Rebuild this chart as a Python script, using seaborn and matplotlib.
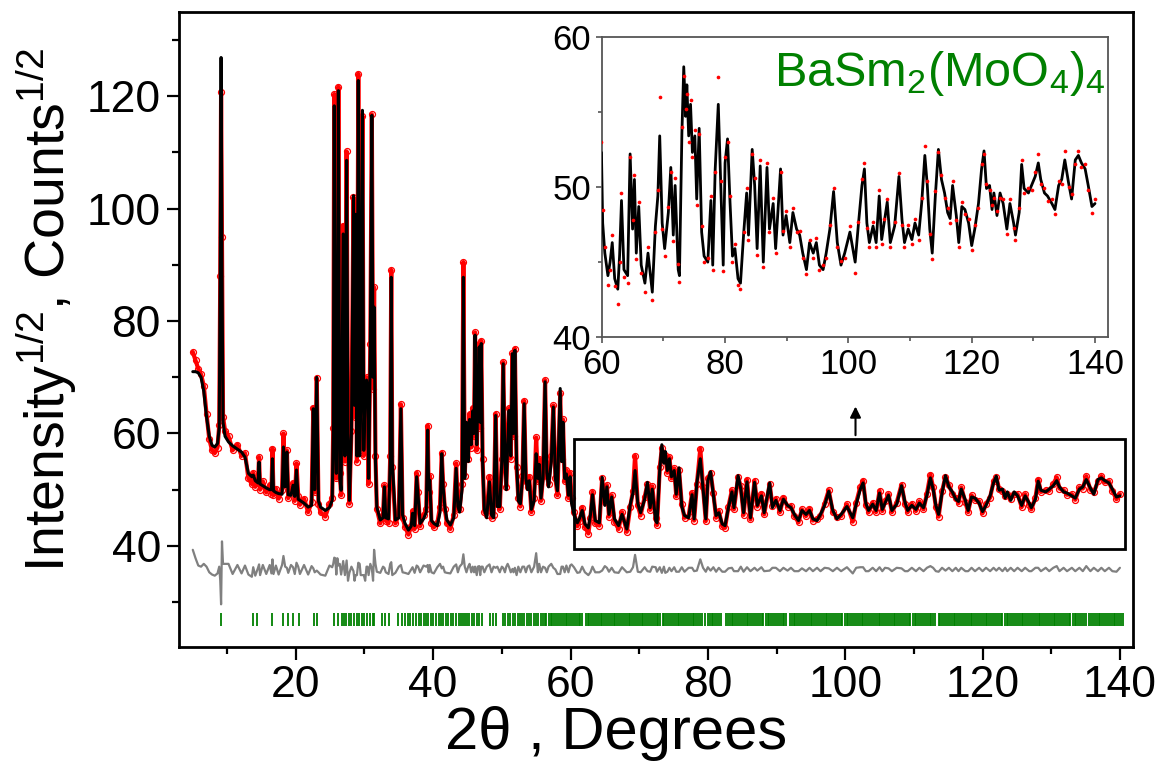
import numpy as np
import matplotlib
matplotlib.use("Agg")
import matplotlib.pyplot as plt
from matplotlib.patches import Rectangle
import seaborn as sns

# ---------------- data ----------------
two_theta = [
    5.0, 5.4, 5.8, 6.2, 6.6, 7.0, 7.4, 7.8, 8.2, 8.6, 8.85, 9.0, 9.12, 9.25, 9.4, 9.7,
    10.2, 10.8, 11.5, 12.1, 12.6, 13.1, 13.6, 13.8, 14.1, 14.5, 14.65, 14.8, 15.2, 15.7,
    16.2, 16.45, 16.6, 16.75, 17.1, 17.5, 18.0, 18.2, 18.45, 18.7, 18.9, 19.3, 19.6, 19.85,
    20.1, 20.35, 20.6, 21.2, 21.8, 22.3, 22.55, 22.75, 23.05, 23.3, 23.6, 24.3, 24.9, 25.3,
    25.45, 25.6, 25.75, 25.9, 26.05, 26.2, 26.4, 26.6, 26.9, 27.15, 27.4, 27.6, 27.8, 28.1,
    28.4, 28.55, 28.7, 28.9, 29.1, 29.3, 29.45, 29.7, 29.9, 30.1, 30.3, 30.45, 30.6, 30.85,
    31.07, 31.25, 31.4, 31.6, 31.8, 32.3, 32.7, 32.9, 33.1, 33.5, 33.75, 33.9, 34.05, 34.5,
    35.0, 35.3, 35.55, 35.9, 36.4, 36.8, 37.0, 37.3, 37.6, 37.8, 38.1, 38.6, 39.0, 39.2,
    39.35, 39.5, 39.75, 40.1, 40.6, 41.0, 41.25, 41.45, 41.7, 42.0, 42.5, 43.0, 43.35, 43.6,
    43.85, 44.2, 44.4, 44.6, 44.85, 45.1, 45.3, 45.55, 45.75, 45.95, 46.1, 46.35, 46.5, 46.7,
    46.85, 47.0, 47.2, 47.45, 47.8, 48.2, 48.5, 48.8, 49.1, 49.35, 49.7, 50.0, 50.2, 50.45,
    50.65, 50.85, 51.06, 51.3, 51.55, 51.7, 51.9, 52.15, 52.4, 52.7, 53.0, 53.25, 53.5, 53.75,
    54.0, 54.3, 54.7, 55.0, 55.25, 55.45, 55.7, 56.0, 56.3, 56.55, 56.8, 57.2, 57.5, 57.8,
    58.1, 58.5, 58.7, 58.9, 59.15, 59.4, 59.7, 59.95,
    60.15, 60.5, 61.0, 61.35, 61.7, 62.1, 62.6, 62.9, 63.2, 63.6, 64.2, 64.6, 65.0, 65.3,
    65.6, 66.0, 66.4, 67.0, 67.5, 68.2, 68.7, 69.1, 69.4, 69.8, 70.2, 70.8, 71.2, 71.6,
    71.9, 72.4, 72.6, 73.0, 73.3, 73.6, 73.8, 74.1, 74.4, 74.7, 75.1, 75.4, 75.8, 76.2,
    76.6, 77.2, 77.7, 78.0, 78.4, 78.9, 79.3, 79.7, 80.0, 80.4, 80.8, 81.2, 81.6, 82.1,
    82.5, 83.0, 83.5, 83.8, 84.4, 84.8, 85.2, 85.7, 86.2, 86.8, 87.2, 87.8, 88.2, 89.0,
    89.4, 89.9, 90.5, 91.0, 91.6, 92.1, 92.6, 93.2, 93.7, 94.3, 94.8, 95.3, 95.9, 96.4,
    97.0, 97.6, 98.2, 98.8, 99.4, 100.25, 101.1, 101.6, 102.2, 102.6, 103.0, 103.4, 104.0, 104.5,
    105.0, 105.4, 105.8, 106.3, 106.8, 107.5, 108.2, 108.7, 109.1, 109.7, 110.3, 110.8, 111.4, 111.9,
    112.4, 112.8, 113.2, 113.6, 114.1, 114.6, 115.1, 115.6, 116.1, 116.5, 116.9, 117.5, 117.9, 118.4,
    118.9, 119.5, 120.0, 120.5, 121.1, 121.6, 122.0, 122.4, 122.9, 123.3, 123.6, 124.1, 124.6, 125.1,
    125.7, 126.2, 126.8, 127.1, 127.7, 128.1, 128.5, 129.2, 129.7, 130.3, 130.8, 131.2, 131.8, 132.3,
    133.0, 133.5, 134.1, 134.6, 135.1, 135.7, 136.2, 136.8, 137.3, 137.8, 138.4, 138.9, 139.5, 140.0,
]

y_calc = [
    71.0, 71.0, 70.8, 70.0, 67.5, 63.0, 59.5, 57.9, 57.6, 58.2, 61.0, 90.0, 126.9, 90.0, 62.0, 59.5,
    58.5, 57.8, 57.2, 56.7, 55.8, 52.9, 52.3, 52.6, 51.6, 51.2, 54.9, 51.0, 50.7, 50.3,
    50.0, 50.0, 55.5, 49.8, 49.5, 49.3, 49.2, 57.6, 50.5, 56.7, 49.1, 49.0, 50.8, 48.8,
    53.5, 48.3, 48.1, 47.6, 46.9, 47.2, 64.4, 50.0, 70.0, 48.0, 46.9, 46.3, 46.8, 48.1,
    60.0, 118.3, 60.0, 52.9, 70.0, 121.0, 52.0, 49.9, 95.5, 56.0, 108.6, 60.0, 48.1, 60.0,
    102.3, 65.0, 99.0, 56.0, 122.8, 56.0, 65.0, 117.5, 57.0, 68.0, 69.5, 68.0, 52.0, 75.0,
    116.6, 70.0, 82.5, 55.0, 46.9, 44.6, 45.0, 50.5, 45.0, 44.8, 55.0, 87.8, 55.0, 44.6,
    45.0, 64.4, 45.5, 44.0, 42.8, 43.5, 45.8, 43.6, 52.3, 49.0, 44.0, 44.8, 46.0, 60.6,
    50.0, 51.7, 44.5, 44.0, 43.6, 46.0, 56.4, 50.5, 47.0, 44.6, 43.7, 45.0, 53.8, 47.0,
    46.0, 50.0, 87.8, 52.0, 62.0, 55.0, 62.5, 58.0, 64.0, 60.0, 77.5, 58.0, 66.0, 75.4,
    62.0, 76.0, 55.0, 46.5, 45.0, 51.4, 45.5, 45.0, 63.2, 47.0, 47.0, 55.0, 72.4, 55.0,
    50.0, 58.0, 64.1, 56.0, 74.2, 60.0, 74.8, 55.0, 48.0, 47.5, 52.0, 65.3, 52.0, 50.0,
    51.6, 46.5, 48.0, 56.4, 52.0, 54.5, 48.5, 52.0, 69.2, 53.0, 50.5, 55.0, 64.7, 52.0,
    49.8, 68.0, 55.0, 62.0, 52.0, 52.8, 49.0, 52.3,
    47.6, 45.6, 44.1, 45.0, 46.3, 43.9, 43.2, 45.5, 49.1, 44.5, 44.1, 52.2, 47.2, 50.5,
    45.6, 48.7, 44.8, 43.6, 45.6, 43.0, 47.4, 49.4, 53.4, 47.6, 45.9, 48.3, 51.3, 46.8,
    50.1, 44.5, 44.1, 53.6, 58.0, 54.7, 56.8, 53.4, 55.5, 52.3, 53.4, 49.2, 53.9, 47.0,
    45.4, 45.0, 49.1, 44.8, 51.2, 55.5, 50.1, 44.8, 51.6, 53.2, 49.0, 45.4, 45.9, 43.9,
    43.6, 46.8, 49.6, 46.8, 52.5, 50.1, 45.9, 51.4, 45.0, 51.3, 47.2, 48.9, 45.9, 51.2,
    46.8, 48.1, 46.3, 48.3, 47.2, 46.8, 45.6, 44.5, 46.3, 45.6, 46.3, 44.8, 44.5, 45.6,
    47.2, 49.7, 46.3, 44.8, 45.6, 47.0, 45.0, 47.4, 50.1, 51.2, 47.6, 46.3, 47.4, 46.3,
    49.4, 46.5, 47.6, 49.0, 46.3, 47.4, 50.7, 47.8, 46.3, 47.2, 46.5, 47.6, 46.8, 49.0,
    52.1, 50.1, 47.2, 45.6, 49.4, 52.5, 50.5, 49.6, 48.3, 47.9, 50.1, 48.1, 46.3, 48.7,
    48.5, 47.6, 46.1, 47.2, 48.9, 51.2, 52.4, 49.9, 50.1, 48.5, 49.6, 48.1, 49.6, 48.9,
    47.2, 48.9, 47.6, 46.8, 48.3, 51.5, 49.9, 49.6, 50.1, 50.7, 51.6, 50.5, 49.6, 49.4,
    48.9, 48.5, 50.1, 50.5, 51.8, 50.3, 49.2, 51.8, 52.1, 51.6, 51.2, 50.1, 48.7, 48.9,
]

y_obs = [
    74.5, 73.0, 71.5, 70.5, 68.5, 63.5, 59.0, 57.0, 56.5, 57.5, 61.5, 88.0, 120.7, 95.0, 63.0, 60.5,
    59.5, 57.0, 58.0, 56.0, 56.5, 52.0, 51.0, 53.0, 50.5, 51.5, 55.8, 50.0, 51.5, 49.5,
    50.8, 49.3, 57.3, 49.0, 50.2, 48.4, 50.0, 60.0, 51.0, 57.0, 48.5, 49.8, 51.2, 48.0,
    54.7, 48.8, 47.3, 48.4, 46.0, 47.8, 64.6, 49.5, 69.8, 47.5, 46.0, 45.2, 47.5, 48.5,
    61.0, 120.4, 62.0, 52.0, 72.0, 121.7, 53.0, 49.0, 97.0, 55.0, 110.2, 58.0, 47.5, 60.5,
    102.0, 63.0, 98.0, 55.0, 124.0, 57.0, 64.0, 116.5, 56.0, 66.0, 70.0, 68.5, 51.0, 76.0,
    116.8, 68.0, 86.0, 56.0, 46.5, 44.0, 45.5, 50.8, 44.5, 44.0, 56.0, 89.1, 54.0, 44.0,
    45.5, 65.2, 45.0, 43.4, 42.0, 43.5, 46.2, 43.0, 53.0, 49.5, 43.5, 45.5, 46.5, 61.4,
    49.5, 52.5, 44.0, 43.3, 44.0, 47.0, 56.6, 51.0, 46.5, 44.0, 43.0, 45.5, 54.7, 46.5,
    46.5, 51.0, 90.5, 52.5, 61.5, 55.5, 63.5, 57.5, 64.5, 59.5, 78.0, 57.0, 66.5, 76.0,
    61.0, 76.5, 55.5, 46.0, 45.5, 52.3, 45.0, 45.5, 63.5, 47.5, 46.5, 55.5, 72.7, 54.5,
    50.5, 59.0, 64.5, 55.5, 74.3, 59.5, 75.1, 54.0, 48.5, 47.0, 52.5, 65.8, 51.5, 50.5,
    52.3, 46.0, 48.5, 59.3, 51.5, 55.5, 48.0, 52.5, 69.5, 52.5, 51.0, 56.0, 65.0, 52.0,
    49.0, 67.2, 55.5, 62.5, 51.5, 53.5, 48.5, 53.0,
    48.5, 46.0, 43.5, 44.5, 46.8, 43.4, 42.2, 45.0, 49.6, 44.0, 43.6, 52.0, 47.8, 50.8,
    45.2, 49.0, 44.3, 43.0, 46.0, 42.5, 47.0, 49.8, 56.0, 47.2, 45.4, 48.7, 51.0, 46.4,
    50.6, 44.9, 43.7, 54.0, 57.4, 55.2, 56.2, 53.0, 55.8, 52.0, 53.8, 48.8, 53.5, 47.4,
    45.0, 45.3, 49.4, 44.5, 51.0, 57.3, 50.4, 44.4, 52.0, 53.0, 49.4, 45.0, 46.2, 43.5,
    43.2, 47.0, 49.9, 46.5, 52.2, 50.6, 45.5, 51.8, 44.7, 51.6, 47.0, 49.3, 45.6, 51.0,
    47.1, 48.4, 46.0, 48.6, 47.0, 47.1, 45.3, 44.2, 46.5, 45.3, 46.6, 44.5, 44.8, 45.3,
    47.5, 49.9, 46.0, 45.1, 45.3, 47.4, 44.3, 47.7, 50.5, 51.6, 47.3, 46.0, 47.7, 46.0,
    49.8, 46.2, 47.9, 49.2, 46.0, 47.7, 50.9, 47.5, 46.0, 47.5, 46.2, 47.9, 46.5, 49.3,
    52.7, 50.4, 46.9, 45.2, 49.7, 52.3, 50.8, 49.3, 48.6, 47.6, 50.4, 47.8, 46.0, 49.0,
    48.2, 47.9, 45.8, 47.5, 48.6, 51.5, 52.2, 50.2, 49.8, 48.8, 49.3, 48.4, 49.3, 49.2,
    46.9, 49.2, 47.3, 46.5, 48.6, 51.8, 49.6, 49.9, 49.8, 51.0, 52.2, 50.2, 49.9, 49.1,
    49.2, 48.2, 50.4, 50.2, 52.4, 50.0, 49.5, 51.5, 52.4, 51.3, 51.5, 49.8, 48.3, 49.2,
]

diff_offset = 35.8

bragg_positions = [
    9.07, 13.8, 14.3, 16.6, 18.2, 18.8, 19.65, 20.5, 22.7, 23.1, 25.6, 26.1,
    26.7, 27.0, 27.3, 27.7, 28.1, 28.5, 28.9, 29.2, 29.6, 30.0, 30.3, 30.8, 31.2, 31.4,
    32.5, 33.0, 33.6,
    34.9, 35.4, 35.9, 36.4, 36.7, 37.1, 37.5, 37.9, 38.2, 38.6, 39.0, 39.3, 39.7, 40.0,
    40.4, 40.8, 41.1, 41.5, 41.8, 42.2, 42.6, 42.9, 43.3, 43.7, 44.0, 44.4, 44.65, 44.9,
    45.2, 45.6, 46.0, 46.35, 46.7, 47.1, 48.3, 48.7, 49.2,
    50.2, 50.5, 50.9, 51.2, 51.6, 51.9, 52.3, 52.6, 53.0, 53.3, 53.7, 54.0, 54.3, 54.7,
    55.0, 55.3, 55.7, 56.0, 56.25, 56.5, 56.8, 57.1, 57.35, 57.6, 57.9, 58.2, 58.45, 58.7,
    59.0, 59.3, 59.55, 59.8, 60.1, 60.35, 60.6, 60.9, 61.2, 61.45, 61.7, 62.2, 62.5, 62.75, 63.0,
    63.3, 63.55, 63.8, 64.1, 64.4, 64.65, 64.9, 65.2, 65.45, 65.7, 66.0, 66.3, 66.55, 66.8,
    67.1, 67.35, 67.6, 67.9, 68.2, 68.45, 68.7, 69.0, 69.3, 69.55, 69.8, 70.1, 70.35, 70.6,
    70.9, 71.2, 71.45, 71.7, 72.0, 72.3, 72.55, 72.8, 73.1, 73.4, 73.65, 73.9, 74.2, 74.5,
    74.75, 75.0, 75.3, 75.6, 75.85, 76.1, 76.4, 76.7, 76.95, 77.2, 77.5, 77.8, 78.05, 78.3,
    78.6, 78.9, 79.15, 79.6, 80.0, 80.3, 80.55, 80.8, 81.1, 81.4, 81.65, 81.9, 82.6, 82.9, 83.2, 83.45,
    83.7, 84.0, 84.3, 84.55, 84.8, 85.1, 85.4, 85.65, 85.9, 86.2, 86.5, 86.75, 87.0, 87.3,
    87.6, 87.85, 88.1, 88.4, 88.7, 88.95, 89.2, 89.5, 89.8, 90.05, 90.3, 90.6, 90.9, 91.15,
    91.45, 91.9, 92.2, 92.5, 92.75, 93.0, 93.3, 93.6, 93.85, 94.1, 94.4, 94.7, 94.95, 95.2, 95.5,
    95.8, 96.05, 96.3, 96.6, 96.9, 97.15, 97.4, 97.7, 98.0, 98.25, 98.5, 98.8, 99.1, 99.35,
    99.6, 99.9, 100.2, 100.45, 100.7, 101.0, 101.3, 101.55, 101.8, 102.1, 102.4, 102.65, 102.9, 103.2,
    103.5, 103.75, 104.0, 104.3, 104.6, 104.85, 105.1, 105.4, 105.7, 105.95, 106.2, 106.5, 106.8, 107.05,
    107.3, 107.6, 107.9, 108.15, 108.4, 108.7, 109.0, 109.25, 109.5, 109.8, 110.1, 110.35, 110.6, 110.9,
    111.2, 111.45, 111.7, 112.0, 112.3, 112.55, 112.8, 113.05, 113.6, 113.85, 114.1, 114.4, 114.7, 114.95,
    115.2, 115.5, 115.8, 116.05, 116.3, 116.6, 116.9, 117.15, 117.4, 117.7, 118.0, 118.25, 118.5, 118.8,
    119.1, 119.35, 119.6, 119.9, 120.2, 120.45, 120.7, 121.0, 121.3, 121.55, 121.8, 122.1, 122.4, 122.65,
    122.9, 123.2, 123.5, 123.75, 124.0, 124.3, 124.6, 124.85, 125.1, 125.4, 125.7, 125.95, 126.2, 126.5,
    126.8, 127.05, 127.3, 127.6, 127.9, 128.15, 128.4, 128.7, 129.0, 129.25, 129.5, 129.8, 130.1, 130.35,
    130.6, 130.9, 131.2, 131.45, 131.7, 132.0, 132.3, 132.55, 132.8, 133.1, 133.4, 133.65, 133.9, 134.2,
    134.5, 134.75, 135.0, 135.55, 135.8, 136.05, 136.3, 136.6, 136.9, 137.15, 137.4, 137.7, 138.0, 138.25, 138.5,
    138.8, 139.1, 139.35, 139.6, 139.9, 140.2, 140.4,
]

x_major_ticks = [20, 40, 60, 80, 100, 120, 140]
y_major_ticks = [40, 60, 80, 100, 120]
inset_x_ticks = [60, 80, 100, 120, 140]
inset_y_ticks = [40, 50, 60]

# ---------------- styling ----------------
sns.set_theme(style="ticks")
plt.rcParams["font.family"] = ["Liberation Sans", "DejaVu Sans"]
plt.rcParams["mathtext.fontset"] = "custom"
plt.rcParams["mathtext.rm"] = "Liberation Sans"
plt.rcParams["mathtext.it"] = "Liberation Sans:italic"
plt.rcParams["mathtext.bf"] = "Liberation Sans:bold"

GREEN = "#008000"
RED = "#ff0000"
GREY = "#808080"

tt = np.array(two_theta)
yc = np.array(y_calc)
yo = np.array(y_obs)
yd = yo - yc + diff_offset

fig = plt.figure(figsize=(11.68, 7.84), dpi=100)
ax = fig.add_axes([0.1533, 0.1747, 0.8167, 0.8100])

# observed (red open circles)
sns.lineplot(x=tt, y=yo, ax=ax, sort=False, estimator=None, color=RED, lw=3.0,
             marker="o", markersize=4.3, markerfacecolor="none", markeredgecolor=RED,
             markeredgewidth=0.9, zorder=2)
# calculated
sns.lineplot(x=tt, y=yc, ax=ax, sort=False, estimator=None, color="black", lw=2.2, zorder=3)
# difference
sns.lineplot(x=tt, y=yd, ax=ax, sort=False, estimator=None, color=GREY, lw=1.6, zorder=2)
# Bragg positions
ax.vlines(bragg_positions, 25.7, 28.1, colors=GREEN, lw=1.3, zorder=2)

ax.set_xlim(3.0, 141.9)
ax.set_ylim(22.0, 135.0)
ax.set_xticks(x_major_ticks)
ax.set_yticks(y_major_ticks)
ax.set_xticks([10, 30, 50, 70, 90, 110, 130], minor=True)
ax.set_yticks([30, 50, 70, 90, 110, 130], minor=True)
ax.tick_params(axis="both", which="major", direction="out", length=9, width=1.6,
               labelsize=32, pad=4, color="black", labelcolor="black")
ax.tick_params(axis="both", which="minor", direction="out", length=5, width=1.6, color="black")
for s in ax.spines.values():
    s.set_linewidth(2.0)
    s.set_color("black")

ax.set_xlabel("2\u03b8 , Degrees", fontsize=43, color="black")
ax.set_ylabel("Intensity$^{1/2}$, Counts$^{1/2}$", fontsize=40, color="black")
ax.xaxis.set_label_coords(0.458, -0.093)
ax.yaxis.set_label_coords(-0.105, 0.53)

# zoom box and arrow
ax.add_patch(Rectangle((60.5, 39.4), 80.3, 19.7, fill=False, lw=2.0, edgecolor="black", zorder=5))
ax.annotate("", xy=(101.5, 65.3), xytext=(101.5, 59.2),
            arrowprops=dict(arrowstyle="-|>", color="black", lw=1.5, mutation_scale=16))

# ---------------- inset ----------------
axin = fig.add_axes([0.5152, 0.5698, 0.4334, 0.3834])
sel = tt >= 59.9
sns.lineplot(x=tt[sel], y=yc[sel], ax=axin, sort=False, estimator=None, color="black", lw=2.0, zorder=3)
sns.scatterplot(x=tt[sel], y=yo[sel], ax=axin, color=RED, s=7, linewidth=0, zorder=4)
axin.set_xlim(60, 142.1)
axin.set_ylim(40, 60)
axin.set_xticks(inset_x_ticks)
axin.set_yticks(inset_y_ticks)
axin.set_xticks([70, 90, 110, 130], minor=True)
axin.set_yticks([45, 55], minor=True)
axin.tick_params(axis="both", which="major", direction="out", length=4.5, width=1.2,
                 labelsize=25, pad=3, color="#555555", labelcolor="black")
axin.tick_params(axis="both", which="minor", direction="out", length=3, width=1.2, color="#555555")
for s in axin.spines.values():
    s.set_linewidth(1.3)
    s.set_color("#555555")
axin.text(0.995, 0.96, "BaSm$_2$(MoO$_4$)$_4$", transform=axin.transAxes, ha="right", va="top",
          fontsize=35, color=GREEN)

fig.savefig("out.png", dpi=100)
